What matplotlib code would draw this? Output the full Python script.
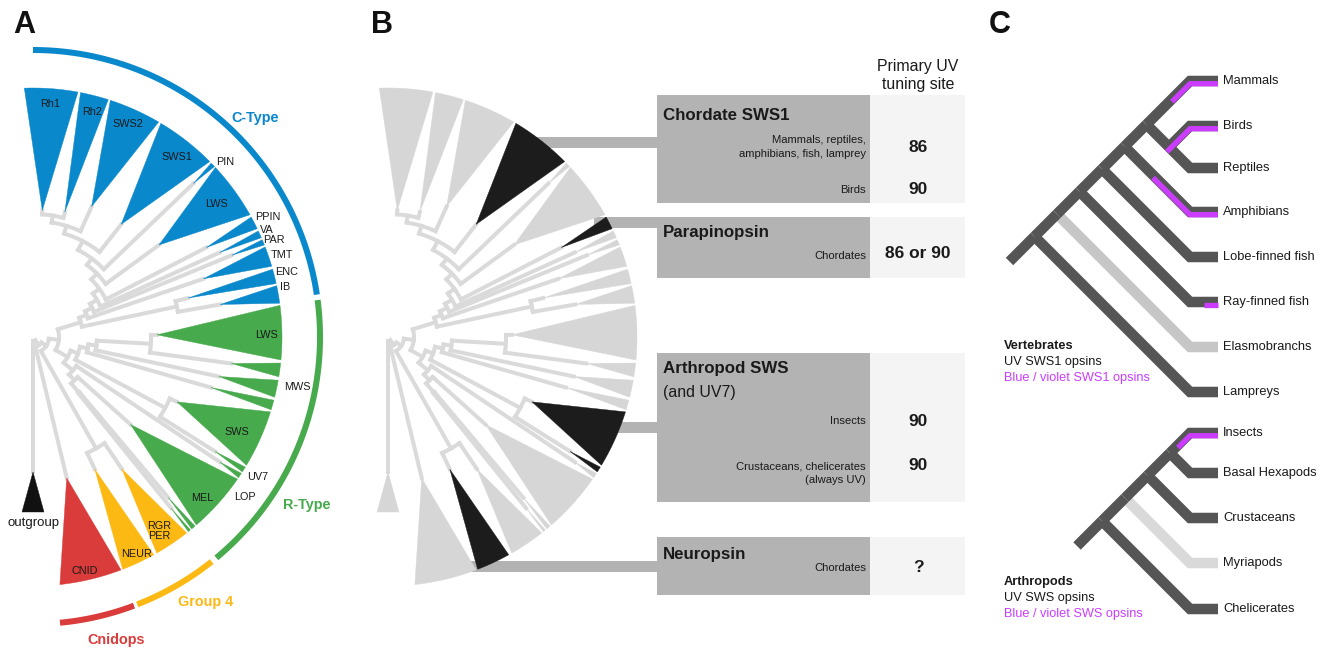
import numpy as np
import matplotlib
matplotlib.use("Agg")
import matplotlib.pyplot as plt
from matplotlib.patches import Polygon, Rectangle

plt.rcParams['font.family'] = ['Liberation Sans', 'DejaVu Sans']

# ============ Panel A / B : opsin gene tree (angles: degrees clockwise from north) ============
clade_names = ['Rh1', 'Rh2', 'SWS2', 'SWS1', 'PIN', 'LWS', 'PPIN', 'VA', 'PAR', 'TMT', 'ENC', 'IB',
               'LWSr', 'MWS1', 'MWS2', 'MWS3', 'SWS', 'UV7', 'LOP', 'MEL', 'G1', 'G2',
               'RGR', 'NEUR', 'CNID', 'OUT']
clade_start = [-2.0, 11.0, 18.1, 30.9, 45.7, 47.1, 61.2, 64.8, 67.0, 68.8, 74.2, 78.1,
               82.7, 96.0, 100.0, 104.7, 107.5, 121.5, 123.2, 124.8, 139.4, 140.8,
               141.9, 151.0, 159.3, 180.0]
clade_end = [10.4, 17.6, 30.3, 45.2, 46.8, 60.6, 64.2, 66.5, 68.3, 73.5, 77.6, 82.2,
             95.3, 99.2, 104.0, 107.0, 121.0, 122.8, 124.4, 139.0, 140.4, 141.4,
             150.2, 158.9, 173.8, 180.0]
clade_tip = [127, 129, 143, 143, 222, 156, 195, 205, 215, 180, 160, 190,
             124, 200, 190, 185, 158, 215, 225, 131, 210, 220,
             159, 146, 145, 135]
clade_group = ['C'] * 12 + ['R'] * 10 + ['G4', 'G4', 'CN', 'OUT']

# tree topology: (node radius, child, child, ...)
C_TREE = (50, (58, (66, (74, (82, (90, (98, (108, (116, (123, 'Rh1', 'Rh2'), 'SWS2'), 'SWS1'),
          'PIN'), 'LWS'), 'PPIN'), 'VA'), 'PAR'), 'TMT'), (147, 'ENC', 'IB'))
R_TREE = (40, (48, (56, (64, (118, 'LWSr', 'MWS1'), 'MWS2'), 'MWS3'), (150, 'SWS', 'UV7')),
          (52, 'LOP', (60, 'MEL', (72, 'G1', 'G2'))))
TREE = (4, 'OUT', (10, 'CNID', (16, (128, 'NEUR', 'RGR'), (26, C_TREE, R_TREE))))

label_text = ['Rh1', 'Rh2', 'SWS2', 'SWS1', 'PIN', 'LWS', 'PPIN', 'VA', 'PAR', 'TMT', 'ENC', 'IB',
              'LWS', 'MWS', 'SWS', 'UV7', 'LOP', 'MEL', 'RGR\nPER', 'NEUR', 'CNID', 'outgroup']
label_x = [50, 92, 128, 177, 225, 216, 268, 267, 274, 282, 287, 285,
           267, 297, 237, 258, 245, 202, 159, 137, 85, 33]
label_y = [104, 112, 124, 157, 162, 204, 217, 230, 240, 255, 272, 287,
           335, 387, 432, 477, 497, 498, 531, 554, 571, 523]

group_arc_names = ['C-Type', 'R-Type', 'Group 4', 'Cnidops']
group_arc_start = [0.0, 82.6, 141.5, 159.4]
group_arc_end = [81.5, 140.3, 158.7, 174.6]
group_arc_keys = ['C', 'R', 'G4', 'CN']
group_label_x = [255, 307, 206, 116]
group_label_y = [118, 505, 602, 640]

highlight_B = ['SWS1', 'PPIN', 'SWS', 'UV7', 'NEUR']

# ============ Panel B : UV tuning table ============
box_titles = ['Chordate SWS1', 'Parapinopsin', 'Arthropod SWS', 'Neuropsin']
box_top = [95, 217, 353, 537]
box_bottom = [203, 278, 502, 595]
box_title_y = [116, 232, 369, 554]
bar_y = [142.5, 222.5, 427.5, 566]
row_taxa = ['Mammals, reptiles,\namphibians, fish, lamprey', 'Birds', 'Chordates', 'Insects',
            'Crustaceans, chelicerates\n(always UV)', 'Chordates']
row_taxa_y = [147, 190, 256, 421, 473, 568]
row_site = ['86', '90', '86 or 90', '90', '90', '?']
row_site_y = [148, 189, 254, 421, 465, 568]

# ============ Panel C : species trees ============
vert_leaves = ['Mammals', 'Birds', 'Reptiles', 'Amphibians', 'Lobe-finned fish',
               'Ray-finned fish', 'Elasmobranchs', 'Lampreys']
vert_y = [81, 126, 168, 212, 257, 302, 347, 392]
vert_tree = ((((((('Mammals', ('Birds', 'Reptiles')), 'Amphibians'), 'Lobe-finned fish'),
                'Ray-finned fish'), 'Elasmobranchs'), 'Lampreys'))
vert_light = {'Elasmobranchs': '#c6c6c6'}
vert_purple = ['Mammals', 'Birds', 'Amphibians', 'Ray-finned fish']
vert_purple_from = [1172, 1167, 1153, 1204]

arth_leaves = ['Insects', 'Basal Hexapods', 'Crustaceans', 'Myriapods', 'Chelicerates']
arth_y = [433, 473, 518, 563, 609]
arth_tree = (((('Insects', 'Basal Hexapods'), 'Crustaceans'), 'Myriapods'), 'Chelicerates')
arth_light = {'Myriapods': '#d9d9d9'}
arth_purple = ['Insects']
arth_purple_from = [1178]

legend_titles = ['Vertebrates', 'Arthropods']
legend_uv = ['UV SWS1 opsins', 'UV SWS opsins']
legend_violet = ['Blue / violet SWS1 opsins', 'Blue / violet SWS opsins']
legend_y = [346, 582]

# ======================================================================
COL = {'C': '#0a88cc', 'R': '#47aa4c', 'G4': '#fdb913', 'CN': '#d93c3a', 'OUT': '#111111'}
TREE_GRAY = '#dadada'
DARK = '#555555'
PURPLE = '#cc3cff'
TXT = '#1a1a1a'

W, H = 1328, 649
fig = plt.figure(figsize=(W / 100, H / 100), dpi=100)
ax = fig.add_axes([0, 0, 1, 1])
ax.set_xlim(0, W)
ax.set_ylim(H, 0)
ax.axis('off')
PT = 0.72  # points per pixel

ang = {n: (a + b) / 2 for n, a, b in zip(clade_names, clade_start, clade_end)}
tipr = dict(zip(clade_names, clade_tip))


def polar(c, r, th):
    t = np.deg2rad(th)
    return c[0] + r * np.sin(t), c[1] - r * np.cos(t)


def tree_segments(node):
    if isinstance(node, str):
        return ang[node], tipr[node], []
    r = node[0]
    segs, kids = [], []
    for ch in node[1:]:
        a, cr, s = tree_segments(ch)
        segs += s
        kids.append((a, cr))
    lo = min(k[0] for k in kids)
    hi = max(k[0] for k in kids)
    segs.append(('arc', r, lo, hi))
    for a, cr in kids:
        segs.append(('rad', a, r, cr))
    return (lo + hi) / 2, r, segs


RIM = 249


def draw_opsin_tree(c, colors, line_col):
    _, _, segs = tree_segments(TREE)
    for s in segs:
        if s[0] == 'arc':
            th = np.linspace(s[2], s[3], 60)
            x, y = polar(c, s[1], th)
        else:
            x, y = polar(c, np.array([s[2], s[3]]), s[1])
        ax.plot(x, y, color=line_col, lw=4 * PT, solid_capstyle='projecting', zorder=2)
    for n, a, b, tr in zip(clade_names, clade_start, clade_end, clade_tip):
        col = colors[n]
        if n == 'OUT':
            ax.add_patch(Polygon([(c[0], c[1] + tr), (c[0] - 11, c[1] + 175), (c[0] + 11, c[1] + 175)],
                                 closed=True, facecolor=col, edgecolor=col, lw=0.3, zorder=3))
            continue
        th = np.linspace(a, b, 30)
        xs, ys = polar(c, RIM, th)
        tx, ty = polar(c, tr, (a + b) / 2)
        pts = [(tx, ty)] + list(zip(xs, ys))
        ax.add_patch(Polygon(pts, closed=True, facecolor=col, edgecolor=col, lw=0.3, zorder=3))


# ---------------- Panel A ----------------
cA = (33, 337)
colA = {n: COL[g] for n, g in zip(clade_names, clade_group)}
draw_opsin_tree(cA, colA, TREE_GRAY)
for t, x, y in zip(label_text, label_x, label_y):
    fs = 9.5 if t == 'outgroup' else 7.8
    ax.text(x, y, t, ha='center', va='center', fontsize=fs, color=TXT, linespacing=0.95, zorder=5)
for name, a, b, k, lx, ly in zip(group_arc_names, group_arc_start, group_arc_end, group_arc_keys,
                                 group_label_x, group_label_y):
    th = np.linspace(a, b, 120)
    x, y = polar(cA, 287, th)
    ax.plot(x, y, color=COL[k], lw=6 * PT, solid_capstyle='butt', zorder=4)
    ax.text(lx, ly, name, ha='center', va='center', fontsize=10.4, fontweight='bold',
            color=COL[k], zorder=5)

# ---------------- Panel B ----------------
cB = (cA[0] + 355, cA[1])
colB = {n: ('#1c1c1c' if n in highlight_B else '#d6d6d6') for n in clade_names}
BOX = '#b3b3b3'
LIGHT = '#f4f4f4'
for by in bar_y:
    xr = cB[0] + np.sqrt(RIM ** 2 - (cB[1] - by) ** 2) - 15
    ax.add_patch(Rectangle((xr, by - 5.5), 657 - xr, 11, facecolor=BOX, edgecolor='none', zorder=1))
draw_opsin_tree(cB, colB, TREE_GRAY)

for t, top, bot, ty in zip(box_titles, box_top, box_bottom, box_title_y):
    ax.add_patch(Rectangle((657, top), 213, bot - top, facecolor=BOX, edgecolor='none', zorder=1))
    ax.add_patch(Rectangle((870, top), 95, bot - top, facecolor=LIGHT, edgecolor='none', zorder=1))
    ax.text(663, ty, t, ha='left', va='center', fontsize=12.2, fontweight='bold', color=TXT, zorder=5)
ax.text(663, 393, '(and UV7)', ha='left', va='center', fontsize=11.4, color=TXT, zorder=5)
for t, ty, s, sy in zip(row_taxa, row_taxa_y, row_site, row_site_y):
    ax.text(866, ty, t, ha='right', va='center', fontsize=8.1, color=TXT, multialignment='right',
            linespacing=1.45, zorder=5)
    ax.text(918, sy, s, ha='center', va='center', fontsize=12.5, fontweight='bold', color=TXT, zorder=5)
ax.text(918, 76, 'Primary UV\ntuning site', ha='center', va='center', fontsize=11.4, color=TXT,
        linespacing=1.25, zorder=5)

# ---------------- Panel C ----------------
XT, XE = 1190, 1218


def slant(node, ys, segs):
    if isinstance(node, str):
        return (XT, ys[node]), ys[node], ys[node]
    info = [slant(ch, ys, segs) for ch in node]
    ymin = min(i[1] for i in info)
    ymax = max(i[2] for i in info)
    pos = (XT - (ymax - ymin) / 2, (ymin + ymax) / 2)
    for ch, (p, _, _) in zip(node, info):
        segs.append((pos, p, ch if isinstance(ch, str) else None))
    return pos, ymin, ymax


def draw_species_tree(tree, leaves, ys_list, light, purple, purple_from):
    ys = dict(zip(leaves, ys_list))
    segs = []
    root, _, _ = slant(tree, ys, segs)
    paths = []
    for pos, p, leaf in segs:
        col = light.get(leaf, DARK) if leaf else DARK
        if leaf:
            path = [pos, (XT, p[1]), (XE, p[1])]
        else:
            path = [pos, p]
        paths.append((col, path))
    paths.append((DARK, [root, (root[0] - 25, root[1] + 25)]))
    paths.sort(key=lambda q: q[0] == DARK)
    for col, path in paths:
        xs, yy = zip(*path)
        ax.plot(xs, yy, color=col, lw=10.5 * PT, solid_capstyle='butt', solid_joinstyle='miter', zorder=2)
    node_of = {leaf: pos for pos, p, leaf in segs if leaf}
    for leaf, fx in zip(purple, purple_from):
        y = ys[leaf]
        nx, ny = node_of[leaf]
        if fx < XT:
            fy = y + (ny - y) * (XT - fx) / (XT - nx)
            path = [(fx, fy), (XT, y), (XE, y)]
        else:
            path = [(fx, y), (XE, y)]
        xs, yy = zip(*path)
        ax.plot(xs, np.array(yy) + 2.7, color=PURPLE, lw=5.3 * PT, solid_capstyle='butt',
                solid_joinstyle='miter', zorder=3)
    for leaf in leaves:
        ax.text(1223, ys[leaf], leaf, ha='left', va='center', fontsize=9.3, color=TXT, zorder=5)


draw_species_tree(vert_tree, vert_leaves, vert_y, vert_light, vert_purple, vert_purple_from)
draw_species_tree(arth_tree, arth_leaves, arth_y, arth_light, arth_purple, arth_purple_from)

for t, u, v, ly in zip(legend_titles, legend_uv, legend_violet, legend_y):
    ax.text(1004, ly, t, ha='left', va='center', fontsize=9.2, fontweight='bold', color=TXT)
    ax.text(1004, ly + 16, u, ha='left', va='center', fontsize=9.2, color=TXT)
    ax.text(1004, ly + 32, v, ha='left', va='center', fontsize=9.2, color=PURPLE)

# ---------------- panel letters ----------------
for t, x in zip(['A', 'B', 'C'], [24, 382, 1000]):
    ax.text(x, 25, t, ha='center', va='center', fontsize=22, fontweight='bold', color='#111111')

fig.savefig('out.png', dpi=100)
